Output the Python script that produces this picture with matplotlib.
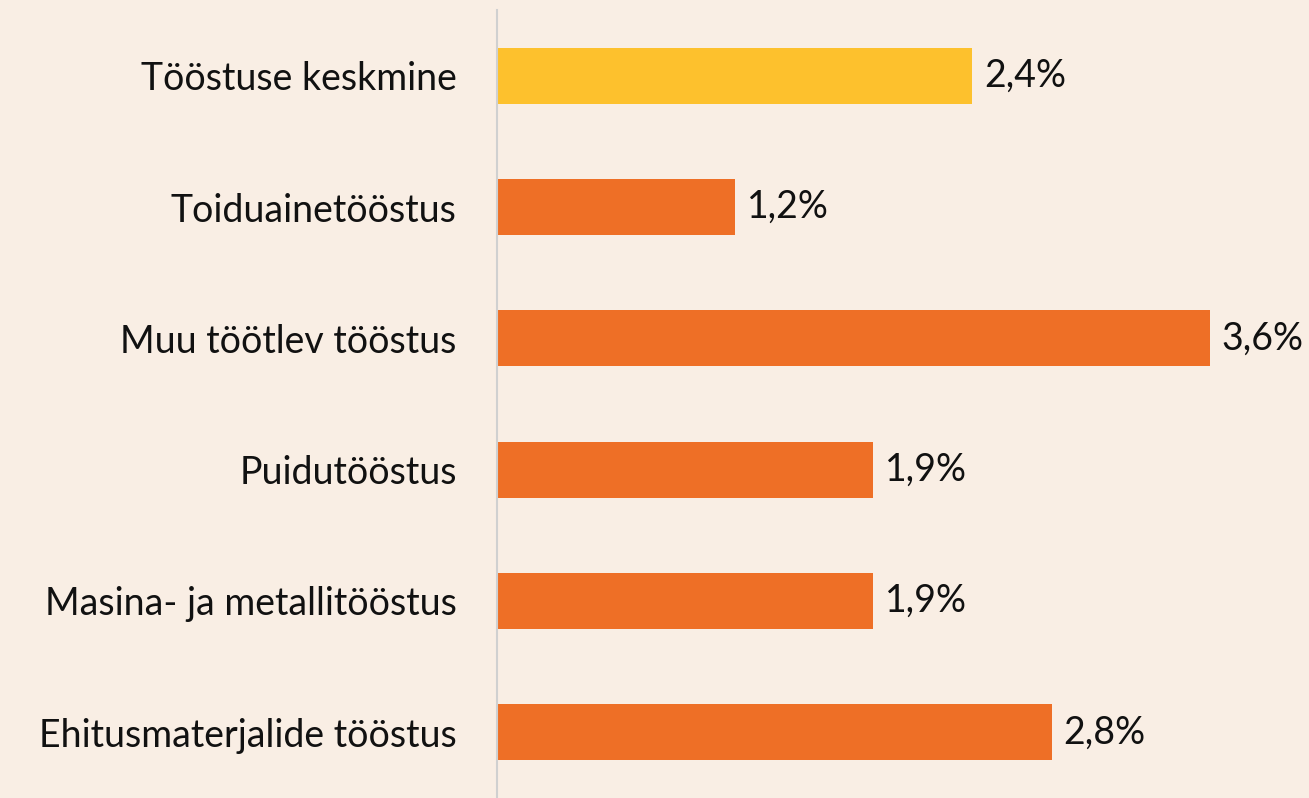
import matplotlib.pyplot as plt

# data
categories = ["Tööstuse keskmine", "Toiduainetööstus", "Muu töötlev tööstus",
              "Puidutööstus", "Masina- ja metallitööstus", "Ehitusmaterjalide tööstus"]
values = [2.4, 1.2, 3.6, 1.9, 1.9, 2.8]
labels = ["2,4%", "1,2%", "3,6%", "1,9%", "1,9%", "2,8%"]

bg = "#F9EEE4"
colors = ["#FDC12D"] + ["#EE6F26"] * 5

plt.rcParams['font.family'] = ['Lato', 'DejaVu Sans']

fig = plt.figure(figsize=(13.09, 7.98), dpi=100, facecolor=bg)
ax = fig.add_axes([497 / 1309, 0, 1 - 497 / 1309, 788 / 798])
ax.set_facecolor(bg)

ypos = list(range(len(categories)))
ax.barh(ypos, values, height=0.425, color=colors)

for y, v, lab in zip(ypos, values, labels):
    ax.text(v + 0.06, y, lab, va='center', ha='left', fontsize=27, color='#111111')

ax.set_xlim(0, 4.1)
ax.set_ylim(5.5, -0.5)
ax.set_yticks(ypos)
ax.set_yticklabels(categories, fontsize=27, color='#111111')
ax.tick_params(axis='y', length=0, pad=29)
ax.set_xticks([])

for s in ['top', 'right', 'bottom']:
    ax.spines[s].set_visible(False)
ax.spines['left'].set_color('#D0D0D0')
ax.spines['left'].set_linewidth(1.5)

fig.savefig("out.png", dpi=100, facecolor=bg)
